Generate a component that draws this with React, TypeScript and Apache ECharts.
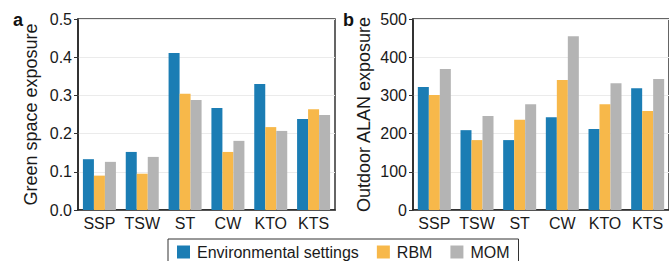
import React, { useEffect, useRef } from "react";
import * as echarts from "echarts";

const categories = ["SSP", "TSW", "ST", "CW", "KTO", "KTS"];
const seriesNames = ["Environmental settings", "RBM", "MOM"];
const colors = ["#1B7DB4", "#F7B84A", "#B4B4B4"];

const greenEnv = [0.133, 0.152, 0.411, 0.267, 0.33, 0.238];
const greenRbm = [0.09, 0.095, 0.304, 0.152, 0.217, 0.264];
const greenMom = [0.126, 0.139, 0.288, 0.181, 0.207, 0.249];

const alanEnv = [322, 209, 183, 243, 212, 319];
const alanRbm = [301, 183, 236, 340, 277, 259];
const alanMom = [369, 246, 277, 455, 332, 343];

const FONT = "'Liberation Sans', Arial, sans-serif";

export default function App() {
  const ref = useRef<HTMLDivElement>(null);
  useEffect(() => {
    document.body.style.margin = "0";
    if (!ref.current) return;
    const chart = echarts.init(ref.current, null, { renderer: "svg" });
    const greenData = [greenEnv, greenRbm, greenMom];
    const alanData = [alanEnv, alanRbm, alanMom];
    const mkX = (gi: number) => ({
      type: "category",
      gridIndex: gi,
      data: categories,
      axisLine: { show: true, lineStyle: { color: "#222", width: 1.5 } },
      axisTick: { show: false },
      axisLabel: { interval: 0, fontSize: 16, color: "#1a1a1a", margin: 5, fontFamily: FONT },
    });
    const mkY = (gi: number, max: number, interval: number, name: string, gap: number, dec: number) => ({
      type: "value",
      gridIndex: gi,
      min: 0,
      max,
      interval,
      name,
      nameLocation: "middle",
      nameRotate: 90,
      nameGap: gap,
      nameTextStyle: { fontSize: 18, color: "#1a1a1a", fontFamily: FONT },
      axisLine: { show: true, lineStyle: { color: "#222", width: 1.5 } },
      axisTick: { show: true, length: 4, lineStyle: { color: "#333" } },
      axisLabel: {
        fontSize: 16,
        color: "#1a1a1a",
        margin: 6,
        fontFamily: FONT,
        formatter: (v: number) => v.toFixed(dec),
      },
      splitLine: { show: true, lineStyle: { color: "#EBEBEB", width: 1 } },
    });
    const series: any[] = [];
    [greenData, alanData].forEach((d, gi) => {
      d.forEach((vals, si) => {
        series.push({
          type: "bar",
          name: seriesNames[si],
          xAxisIndex: gi,
          yAxisIndex: gi,
          data: vals,
          barWidth: 11,
          barGap: "0%",
          itemStyle: { color: colors[si] },
        });
      });
    });
    chart.setOption({
      animation: false,
      textStyle: { fontFamily: FONT },
      grid: [
        { left: 78, top: 19, width: 257, height: 191, show: true, borderColor: "#333", borderWidth: 1.5 },
        { left: 413, top: 19, width: 258, height: 191, show: true, borderColor: "#333", borderWidth: 1.5 },
      ],
      xAxis: [mkX(0), mkX(1)],
      yAxis: [
        mkY(0, 0.5, 0.1, "Green space exposure", 38, 1),
        mkY(1, 500, 100, "Outdoor ALAN exposure", 40, 0),
      ],
      legend: {
        data: seriesNames,
        left: 168,
        top: 239,
        padding: [5, 9, 6, 9],
        itemWidth: 13,
        itemHeight: 13,
        itemGap: 18,
        icon: "rect",
        borderColor: "#333",
        borderWidth: 1,
        backgroundColor: "#fff",
        textStyle: { fontSize: 16, color: "#1a1a1a", fontFamily: FONT, padding: [0, 0, 0, 2] },
      },
      graphic: [
        { type: "text", left: 13, top: 11, style: { text: "a", font: `bold 18px ${FONT}`, fill: "#111" } },
        { type: "text", left: 343, top: 11, style: { text: "b", font: `bold 18px ${FONT}`, fill: "#111" } },
      ],
      series,
    });
    return () => chart.dispose();
  }, []);
  return <div ref={ref} style={{ width: 669, height: 261 }} />;
}
